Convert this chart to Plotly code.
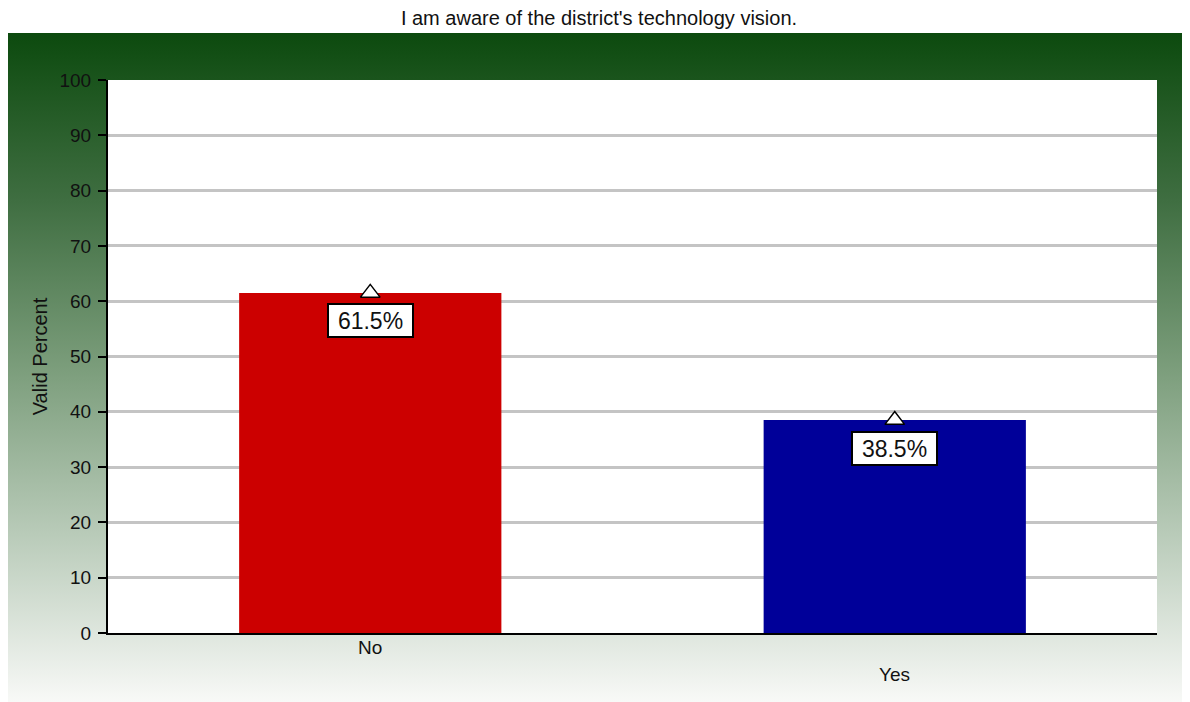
import base64
import plotly.graph_objects as go

categories = ["No", "Yes"]
values = [61.5, 38.5]
labels = ["61.5%", "38.5%"]
bar_colors = ["#CC0000", "#000099"]
title_text = "I am aware of the district's technology vision."
y_title = "Valid Percent"
y_ticks = [0, 10, 20, 30, 40, 50, 60, 70, 80, 90, 100]

FONT = "Liberation Sans, Arial, sans-serif"
# page body has an 8px margin, so the figure is sized to fill the rest of the window
W, H = 1182, 694
L, R, T, B = 100, 33, 72, 69
PANEL_TOP = 25

svg = (
    '<svg xmlns="http://www.w3.org/2000/svg" width="100" height="100" preserveAspectRatio="none">'
    '<defs><linearGradient id="g" x1="0" y1="0" x2="0" y2="1">'
    '<stop offset="0" stop-color="#0c4a0e"/>'
    '<stop offset="0.25" stop-color="#3f6e41"/>'
    '<stop offset="0.5" stop-color="#7b9d7b"/>'
    '<stop offset="0.75" stop-color="#b9cbb9"/>'
    '<stop offset="1" stop-color="#f8f9f7"/>'
    '</linearGradient></defs>'
    '<rect x="0" y="0" width="100" height="100" fill="url(#g)"/></svg>'
)
svg_uri = "data:image/svg+xml;base64," + base64.b64encode(svg.encode()).decode()

pw = W - L - R
ph = H - T - B
px0 = (0 - L) / pw
px1 = (W - L) / pw
py1 = (H - PANEL_TOP - B) / ph
py0 = -B / ph

fig = go.Figure()
fig.add_trace(go.Bar(
    x=categories, y=values, marker=dict(color=bar_colors, line=dict(width=0)),
    width=0.5, hoverinfo="skip", showlegend=False,
))
fig.add_trace(go.Scatter(
    x=categories, y=values, mode="markers",
    marker=dict(symbol="triangle-up", size=17, color="white",
                line=dict(color="black", width=1.5)),
    hoverinfo="skip", showlegend=False, cliponaxis=False,
))

annotations = []
for c, v, t in zip(categories, values, labels):
    annotations.append(dict(
        x=c, y=v, xref="x", yref="y", text=t, showarrow=False,
        yshift=-28, bgcolor="white", bordercolor="black", borderwidth=2,
        borderpad=3, width=77, height=25,
        font=dict(family=FONT, size=23, color="#111"),
    ))
# staggered category labels
for i, c in enumerate(categories):
    annotations.append(dict(
        x=c, y=0, xref="x", yref="paper", text=c, showarrow=False,
        yanchor="top", yshift=-2 - 27 * (i % 2),
        font=dict(family=FONT, size=19, color="#111"),
    ))

fig.update_layout(
    width=W, height=H,
    margin=dict(l=L, r=R, t=T, b=B),
    paper_bgcolor="white", plot_bgcolor="white",
    title=dict(text=title_text, x=0.5, xref="container", xanchor="center",
               y=1, yref="container", yanchor="top", pad=dict(t=3),
               font=dict(family=FONT, size=20, color="#111")),
    images=[dict(source=svg_uri, xref="paper", yref="paper",
                 x=px0, y=py1, sizex=px1 - px0, sizey=py1 - py0,
                 xanchor="left", yanchor="top", sizing="stretch", layer="below")],
    shapes=[dict(type="rect", xref="paper", yref="paper", x0=0, x1=1, y0=0, y1=1,
                 fillcolor="white", line=dict(width=0), layer="below")],
    annotations=annotations,
    xaxis=dict(range=[-0.5, 1.5], showticklabels=False, showgrid=False,
               showline=True, linecolor="black", linewidth=2, ticks="",
               zeroline=False, fixedrange=True),
    yaxis=dict(range=[0, 100], tickvals=y_ticks, showgrid=True, gridcolor="#c4c4c4",
               gridwidth=3, showline=True, linecolor="black", linewidth=2,
               ticks="outside", ticklen=8, tickcolor="black", tickwidth=1.5,
               ticklabelstandoff=3, zeroline=False,
               tickfont=dict(family=FONT, size=19, color="#111"),
               title=dict(text=y_title, standoff=6,
                          font=dict(family=FONT, size=20, color="#111"))),
    bargap=0.5,
)
fig.write_html("out.html")
